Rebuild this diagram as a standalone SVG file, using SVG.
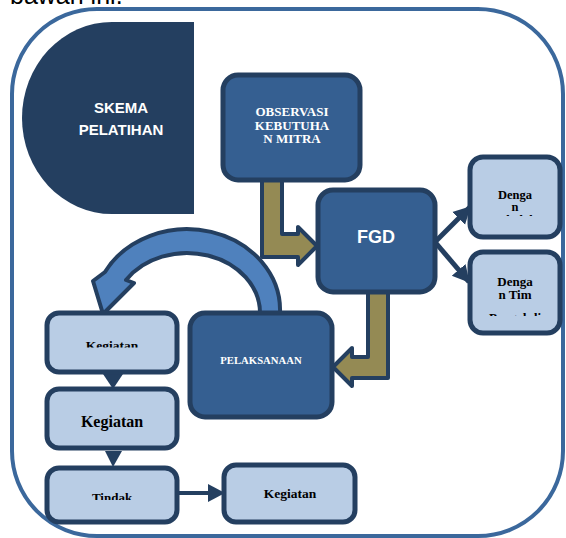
<svg xmlns="http://www.w3.org/2000/svg" width="566" height="538" viewBox="0 0 566 538">
<style>
.dark{fill:#355f91;stroke:#243f60;stroke-width:5}
.light{fill:#b9cde5;stroke:#243f60;stroke-width:5}
.wt{font-family:"Liberation Serif","Times New Roman",serif;font-weight:bold;fill:#ffffff;text-anchor:middle}
.bt{font-family:"Liberation Serif","Times New Roman",serif;font-weight:bold;fill:#000000;text-anchor:middle}
.olive{fill:#948a54;stroke:#243f60;stroke-width:4;stroke-linejoin:round}
.con{stroke:#243f60;stroke-width:5;fill:none}
</style>
<defs>
<marker id="ah" markerUnits="userSpaceOnUse" markerWidth="20" markerHeight="20" refX="16" refY="10" orient="auto" viewBox="0 0 20 20">
<path d="M0,1 L17,10 L0,19 Z" fill="#243f60"/>
</marker>
<clipPath id="c1"><rect x="40" y="300" width="150" height="47.5"/></clipPath>
<clipPath id="c3"><rect x="40" y="460" width="150" height="40"/></clipPath>
<clipPath id="cA"><rect x="465" y="150" width="100" height="66"/></clipPath>
<clipPath id="cB"><rect x="465" y="250" width="100" height="66"/></clipPath>
</defs>
<text x="10" y="4" font-family="Liberation Sans, Arial, sans-serif" font-size="25" fill="#000">bawah ini.</text>
<rect x="12" y="9" width="551" height="527" rx="85" ry="85" fill="none" stroke="#3b689c" stroke-width="4"/>
<g id="skema">
<path d="M194,22 H112 A90,96 0 0 0 112,214 H194 Z" fill="#243f60"/>
<text x="121" y="113" font-family="Liberation Sans, Arial, sans-serif" font-weight="bold" font-size="15" fill="#fff" text-anchor="middle">SKEMA</text>
<text x="121" y="135" font-family="Liberation Sans, Arial, sans-serif" font-weight="bold" font-size="15" fill="#fff" text-anchor="middle">PELATIHAN</text>
</g>
<g id="connectors">
<path class="olive" d="M262,180 V257 H298 V265 L317,246 L298,227 V234 H282 V180"/>
<path class="olive" d="M368,292 H388 V378 H352 V386 L333,367 L352,348 V357 H368 Z"/>
<path d="M280,313 A93,81 0 0 0 105,272 L93,281 L103,314 L134,283 L126,280 A73,60 0 0 1 260,313 Z" fill="#4f81bd" stroke="#243f60" stroke-width="4" stroke-linejoin="round"/>
<line class="con" x1="435" y1="242" x2="470" y2="207" marker-end="url(#ah)"/>
<line class="con" x1="435" y1="242" x2="469" y2="282" marker-end="url(#ah)"/>
<polygon points="103,374 123,374 113,389" fill="#243f60"/>
<polygon points="105,451 122,451 113,467" fill="#243f60"/>
<line x1="177" y1="493" x2="212" y2="493" stroke="#243f60" stroke-width="4"/>
<polygon points="208,484 225,493 208,502" fill="#243f60"/>
</g>
<g id="observasi">
<rect class="dark" x="223" y="75" width="137" height="105" rx="15"/>
<text class="wt" font-size="13" x="292" y="116">OBSERVASI</text>
<text class="wt" font-size="13" x="292" y="129.5">KEBUTUHA</text>
<text class="wt" font-size="13" x="292" y="143">N MITRA</text>
</g>
<g id="fgd">
<rect class="dark" x="318" y="190" width="117" height="102" rx="15"/>
<text x="376" y="243" font-family="Liberation Sans, Arial, sans-serif" font-weight="bold" font-size="18" fill="#fff" text-anchor="middle">FGD</text>
</g>
<g id="sekolah">
<rect class="light" x="470" y="157" width="90" height="80" rx="13"/>
<g clip-path="url(#cA)">
<text class="bt" font-size="12.5" x="515" y="199">Denga</text>
<text class="bt" font-size="12.5" x="515" y="211">n</text>
<text class="bt" font-size="12.5" x="515" y="224">Sekolah</text>
</g>
</g>
<g id="tim">
<rect class="light" x="470" y="252" width="90" height="81" rx="13"/>
<g clip-path="url(#cB)">
<text class="bt" font-size="13" x="515" y="286">Denga</text>
<text class="bt" font-size="13" x="515" y="299">n Tim</text>
<text class="bt" font-size="13" x="515" y="322">Pengabdi</text>
</g>
</g>
<g id="pelaksanaan">
<rect class="dark" x="190" y="313" width="142" height="104" rx="15"/>
<text class="wt" font-size="10.7" x="261" y="364">PELAKSANAAN</text>
</g>
<g id="kegiatan1">
<rect class="light" x="47" y="313" width="130" height="59" rx="12"/>
<text class="bt" font-size="13.5" x="112" y="350" clip-path="url(#c1)">Kegiatan</text>
</g>
<g id="kegiatan2">
<rect class="light" x="47" y="389" width="130" height="59" rx="12"/>
<text class="bt" font-size="16" x="112" y="427">Kegiatan</text>
</g>
<g id="tindak">
<rect class="light" x="47" y="468" width="130" height="54" rx="12"/>
<text class="bt" font-size="13" x="112" y="502" clip-path="url(#c3)">Tindak</text>
</g>
<g id="kegiatan4">
<rect class="light" x="224" y="465" width="131" height="57" rx="12"/>
<text class="bt" font-size="13.5" x="290" y="498">Kegiatan</text>
</g>
</svg>
